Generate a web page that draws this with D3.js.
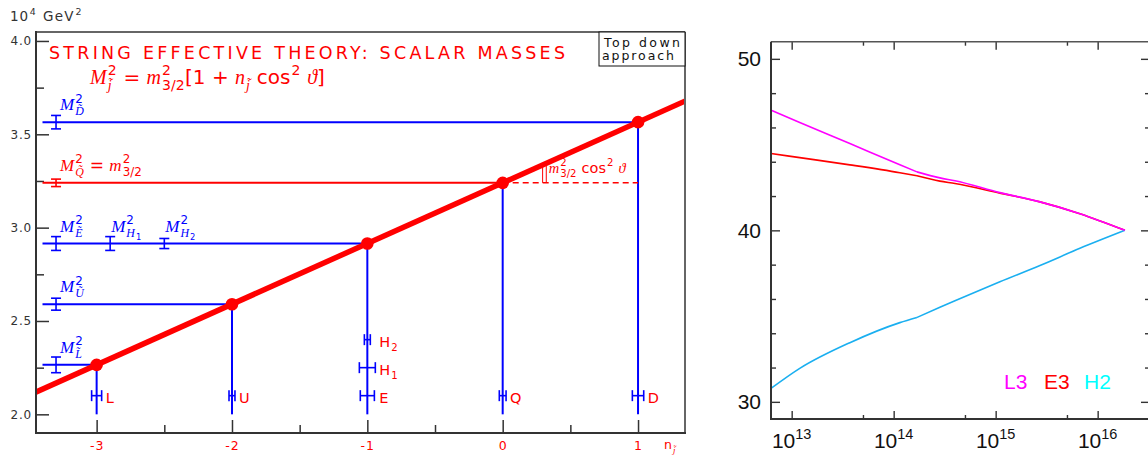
<!DOCTYPE html>
<html><head><meta charset="utf-8">
<script src="https://cdn.jsdelivr.net/npm/d3@7"></script>
<style>body{margin:0;background:#fff} svg{display:block} text{white-space:pre}</style>
</head><body><svg id="c" width="1148" height="458"></svg>
<script>
// ---------------- Left panel data ----------------
const particles = ["L", "U", "E", "Q", "D"];
const nValues = [-3, -2, -1, 0, 1];
const massSq = [2.265, 2.59, 2.915, 3.24, 3.565];      // 10^4 GeV^2
const massErr = [0.042, 0.032, 0.037, 0.02, 0.036];    // spread of left-hand bars
const nErr = [0.037, 0.022, 0.052, 0.025, 0.042];      // spread of bars on n axis
const nBarLevel = [2.1, 2.1, 2.1, 2.1, 2.1];
const higgsNames = ["1", "2"];
const higgsBarN = [-2.9, -2.5];
const higgsMassSq = [2.915, 2.915];
const higgsMassErr = [0.037, 0.027];
const higgsN = [-1, -1];
const higgsNErr = [0.059, 0.022];
const higgsBarLevel = [2.25, 2.4];
const leftBarN = -3.3;
const lineStartN = -3.4;
const fitN = [-3.45, 1.35];
const fitM = [2.119, 3.679];
const yTicksL = [2.0, 2.5, 3.0, 3.5, 4.0];
const yMinorL = [2.25, 2.75, 3.25, 3.75];
const xTicksL = [-3, -2, -1, 0, 1];
const xMinorL = [-2.5, -1.5, -0.5, 0.5];

// ---------------- Right panel data ----------------
const scaleGeV = [6.27e12, 1.2e13, 3.72e13, 1.15e14, 1.69e14, 2.84e14, 3.99e14, 1.10e15, 2.72e15, 6.70e15, 1.85e16];
const kinkIndex = 4;
const L3 = [47.01, 46.29, 45.06, 43.82, 43.41, 43.06, 42.89, 42.20, 41.66, 40.97, 40.0];
const E3 = [44.48, 44.24, 43.82, 43.36, 43.18, 42.87, 42.73, 42.17, 41.66, 40.97, 40.0];
const H2 = [30.78, 31.95, 33.45, 34.62, 34.92, 35.52, 35.90, 37.00, 37.95, 38.95, 40.0];
const yTicksR = [30, 40, 50];
const yMinorR = [32, 34, 36, 38, 42, 44, 46, 48];
const xTicksR = [1e13, 1e14, 1e15, 1e16];
const xMinorR = [5e13, 5e14, 5e15];
const seriesNames = ["L3", "E3", "H2"];

const RED = "#ff0000", BLUE = "#0000ff", AX = "#333";
const SANS = "DejaVu Sans, sans-serif", SERIF = "Liberation Serif, serif";
const svg = d3.select("#c");

function math(g, x, y, toks, size, color, ls) {
  let cx = x;
  toks.forEach(tok => {
    if (typeof tok === "string" || tok.i !== undefined) {
      const it = typeof tok !== "string";
      const t = g.append("text").attr("x", cx).attr("y", y)
        .attr("font-size", size).attr("fill", color)
        .attr("font-family", it ? SERIF : SANS)
        .style("font-style", it ? "italic" : "normal")
        .style("letter-spacing", ls ? ls + "px" : null)
        .text(it ? tok.i : tok);
      cx += t.node().getComputedTextLength();
    } else {
      let w1 = 0, w2 = 0;
      if (tok.sup) w1 = math(g, cx + 1, y - size * 0.45, tok.sup, size * 0.7, color, ls);
      if (tok.sub) w2 = math(g, cx + 1, y + size * 0.3, tok.sub, size * 0.7, color, ls);
      cx += Math.max(w1, w2) + 1.5;
    }
  });
  return cx - x;
}

// ================= LEFT PANEL =================
const L = {x0: 36, x1: 685, y0: 32, y1: 433};
const xL = d3.scaleLinear().domain([-3.448, 1.347]).range([L.x0, L.x1]);
const yL = d3.scaleLinear().domain([1.9, 4.048]).range([L.y1, L.y0]);
const gL = svg.append("g");

// unit label
math(gL, 10, 21, ["10", {sup: ["4"]}], 13.5, AX, 0.8);
math(gL, 43, 21, ["GeV", {sup: ["2"]}], 13.5, AX, 1.2);

// axes ticks
const ay = gL.append("g").attr("transform", `translate(${L.x0},0)`)
  .call(d3.axisLeft(yL).tickValues(yTicksL).tickSize(-13).tickPadding(4).tickFormat(d3.format(".1f")));
ay.select(".domain").remove();
ay.selectAll("line").attr("stroke", AX).attr("stroke-width", 1.5);
ay.selectAll("text").attr("font-family", SANS).attr("font-size", 12).attr("fill", AX).style("letter-spacing", "0.8px");
const ay2 = gL.append("g").attr("transform", `translate(${L.x0},0)`)
  .call(d3.axisLeft(yL).tickValues(yMinorL).tickSize(-8).tickFormat(""));
ay2.select(".domain").remove();
ay2.selectAll("line").attr("stroke", AX).attr("stroke-width", 1.5);

const ax = gL.append("g").attr("transform", `translate(0,${L.y1})`)
  .call(d3.axisBottom(xL).tickValues(xTicksL).tickSize(-13).tickPadding(8).tickFormat(d => d < 0 ? "-" + (-d) : String(d)));
ax.select(".domain").remove();
ax.selectAll("line").attr("stroke", AX).attr("stroke-width", 1.5);
ax.selectAll("text").attr("font-family", SANS).attr("font-size", 12.5).attr("fill", RED).style("letter-spacing", "1px");
const ax2 = gL.append("g").attr("transform", `translate(0,${L.y1})`)
  .call(d3.axisBottom(xL).tickValues(xMinorL).tickSize(-8).tickFormat(""));
ax2.select(".domain").remove();
ax2.selectAll("line").attr("stroke", AX).attr("stroke-width", 1.5);

// n axis label
math(gL, 664, 449, ["n", {sub: [{i: "j̃"}]}], 12.5, RED);

// clip
svg.append("clipPath").attr("id", "clipL").append("rect")
  .attr("x", L.x0).attr("y", L.y0).attr("width", L.x1 - L.x0).attr("height", L.y1 - L.y0);

// horizontal & vertical lines
const lines = gL.append("g");
particles.forEach((p, i) => {
  const c = p === "Q" ? RED : BLUE;
  lines.append("line").attr("x1", xL(lineStartN)).attr("x2", xL(nValues[i]))
    .attr("y1", yL(massSq[i])).attr("y2", yL(massSq[i])).attr("stroke", c).attr("stroke-width", 2);
  lines.append("line").attr("x1", xL(nValues[i])).attr("x2", xL(nValues[i]))
    .attr("y1", yL(massSq[i])).attr("y2", yL(2.0)).attr("stroke", BLUE).attr("stroke-width", 2);
});
// dashed continuation of m3/2 level
const qi = particles.indexOf("Q"), di = particles.indexOf("D");
lines.append("line").attr("x1", xL(nValues[qi])).attr("x2", xL(nValues[di]))
  .attr("y1", yL(massSq[qi])).attr("y2", yL(massSq[qi]))
  .attr("stroke", RED).attr("stroke-width", 1.5).attr("stroke-dasharray", "6,4");

// angle marker and its label
const slope = (fitM[1] - fitM[0]) / (fitN[1] - fitN[0]);
[0.295, 0.322].forEach(n => {
  lines.append("line").attr("x1", xL(n)).attr("x2", xL(n))
    .attr("y1", yL(massSq[qi])).attr("y2", yL(fitM[0] + slope * (n - fitN[0])) + 2)
    .attr("stroke", RED).attr("stroke-width", 1);
});
math(gL, xL(0.34), 173, [{i: "m"}, {sup: ["2"], sub: ["3/2"]}, " cos", {sup: ["2"]}, " ", {i: "ϑ"}], 14.5, RED);

// error bars helper
function vBar(g, x, yc, e, c) {
  const y1 = yL(yc - e), y2 = yL(yc + e);
  g.append("line").attr("x1", x).attr("x2", x).attr("y1", y1).attr("y2", y2).attr("stroke", c).attr("stroke-width", 1.6);
  [y1, y2].forEach(y => g.append("line").attr("x1", x - 5).attr("x2", x + 5).attr("y1", y).attr("y2", y).attr("stroke", c).attr("stroke-width", 1.6));
}
function hBar(g, n, e, yv, c, cap) {
  const x1 = xL(n - e), x2 = xL(n + e), y = yL(yv);
  g.append("line").attr("x1", x1).attr("x2", x2).attr("y1", y).attr("y2", y).attr("stroke", c).attr("stroke-width", 1.6);
  [x1, x2].forEach(x => g.append("line").attr("x1", x).attr("x2", x).attr("y1", y - cap).attr("y2", y + cap).attr("stroke", c).attr("stroke-width", 1.6));
}
const bars = gL.append("g");
particles.forEach((p, i) => {
  const c = p === "Q" ? RED : BLUE;
  vBar(bars, xL(leftBarN), massSq[i], massErr[i], c);
  hBar(bars, nValues[i], nErr[i], nBarLevel[i], BLUE, 5.5);
});
higgsNames.forEach((h, i) => {
  vBar(bars, xL(higgsBarN[i]), higgsMassSq[i], higgsMassErr[i], BLUE);
  hBar(bars, higgsN[i], higgsNErr[i], higgsBarLevel[i], BLUE, 5.5);
});

// labels of bars on n axis
function maxHalf(n) {
  let m = 0;
  nValues.forEach((v, i) => { if (v === n) m = Math.max(m, nErr[i]); });
  higgsN.forEach((v, i) => { if (v === n) m = Math.max(m, higgsNErr[i]); });
  return xL(n + m) - xL(n);
}
particles.forEach((p, i) => {
  math(gL, xL(nValues[i]) + maxHalf(nValues[i]) + 4, yL(nBarLevel[i]) + 7, [p], 14.5, RED);
});
higgsNames.forEach((h, i) => {
  math(gL, xL(higgsN[i]) + maxHalf(higgsN[i]) + 4, yL(higgsBarLevel[i]) + 7, ["H", {sub: [h]}], 14.5, RED);
});

// labels of left bars
particles.forEach((p, i) => {
  const c = p === "Q" ? RED : BLUE;
  const toks = [{i: "M"}, {sup: ["2"], sub: [{i: p + "\u0303"}]}];
  if (p === "Q") toks.push(" = ", {i: "m"}, {sup: ["2"], sub: ["3/2"]});
  math(gL, xL(leftBarN) + 4, yL(massSq[i]) - 12, toks, 17, c);
});
higgsNames.forEach((h, i) => {
  math(gL, xL(higgsBarN[i]) + 1, yL(higgsMassSq[i]) - 12,
    [{i: "M"}, {sup: ["2"], sub: [{i: "H"}, {sub: [h]}]}], 17, BLUE);
});

// thick red line and points
gL.append("path").attr("clip-path", "url(#clipL)")
  .datum(fitN.map((n, i) => [n, fitM[i]]))
  .attr("d", d3.line().x(d => xL(d[0])).y(d => yL(d[1])))
  .attr("stroke", RED).attr("stroke-width", 5.5).attr("fill", "none");
gL.append("g").selectAll("circle").data(nValues).join("circle")
  .attr("cx", d => xL(d)).attr("cy", (d, i) => yL(massSq[i])).attr("r", 6.3).attr("fill", RED);

// frame
gL.append("line").attr("x1", L.x0).attr("x2", L.x1).attr("y1", L.y0).attr("y2", L.y0).attr("stroke", AX).attr("stroke-width", 1.5);
gL.append("line").attr("x1", L.x1).attr("x2", L.x1).attr("y1", L.y0).attr("y2", L.y1).attr("stroke", "#666").attr("stroke-width", 2);
gL.append("line").attr("x1", L.x0).attr("x2", L.x0).attr("y1", L.y0 - 1).attr("y2", L.y1 + 1).attr("stroke", AX).attr("stroke-width", 2);
gL.append("line").attr("x1", L.x0).attr("x2", L.x1 + 1).attr("y1", L.y1).attr("y2", L.y1).attr("stroke", AX).attr("stroke-width", 2);

// title and formula
gL.append("text").attr("x", 49).attr("y", 59).attr("font-family", SANS).attr("font-size", 17.5)
  .attr("fill", RED).attr("textLength", 516).attr("lengthAdjust", "spacing")
  .text("STRING EFFECTIVE THEORY: SCALAR MASSES");
math(gL, 90, 84, [{i: "M"}, {sup: ["2"], sub: [{i: "j̃"}]}, " = ", {i: "m"}, {sup: ["2"], sub: ["3/2"]},
  "[1 + ", {i: "n"}, {sub: [{i: "j̃"}]}, " cos", {sup: ["2"]}, " ", {i: "ϑ"}, "]"], 20, RED);

// box "Top down approach"
gL.append("rect").attr("x", 599).attr("y", L.y0).attr("width", L.x1 - 599).attr("height", 34)
  .attr("fill", "#fff").attr("stroke", "#111").attr("stroke-width", 1);
gL.append("text").attr("x", 604).attr("y", 47).attr("font-family", SANS).attr("font-size", 12.5)
  .attr("fill", "#111").attr("textLength", 76).attr("lengthAdjust", "spacing").text("Top down");
gL.append("text").attr("x", 602).attr("y", 60).attr("font-family", SANS).attr("font-size", 12.5)
  .attr("fill", "#111").attr("textLength", 72).attr("lengthAdjust", "spacing").text("approach");

// ================= RIGHT PANEL =================
const R = {x0: 771, x1: 1150, y0: 41.7, y1: 419};
const xR = d3.scaleLog().domain([6.27e12, 3.26e16]).range([R.x0, R.x1]);
const yR = d3.scaleLinear().domain([29, 51]).range([R.y1, R.y0]);
const gR = svg.append("g");
const RS = "Liberation Sans, Arial, sans-serif";

function ticks(axisFn, pos, vals, size, isX) {
  const g = gR.append("g").attr("transform", isX ? `translate(0,${pos})` : `translate(${pos},0)`)
    .call(axisFn.tickValues(vals).tickSize(size).tickFormat(""));
  g.select(".domain").remove();
  g.selectAll("line").attr("stroke", AX).attr("stroke-width", 1.4);
  return g;
}
ticks(d3.axisLeft(yR), R.x0, yTicksR, -9, false);
ticks(d3.axisLeft(yR), R.x0, yMinorR, -5, false);
ticks(d3.axisRight(yR), R.x1, yTicksR, -9, false);
ticks(d3.axisRight(yR), R.x1, yMinorR, -5, false);
ticks(d3.axisBottom(xR), R.y1, xTicksR, -8, true);
ticks(d3.axisBottom(xR), R.y1, xMinorR, -4, true);
ticks(d3.axisTop(xR), R.y0, xTicksR, -8, true);
ticks(d3.axisTop(xR), R.y0, xMinorR, -4, true);

yTicksR.forEach(v => {
  gR.append("text").attr("x", 761).attr("y", yR(v) + 7.5).attr("text-anchor", "end")
    .attr("font-family", RS).attr("font-size", 21).attr("fill", "#111").text(v);
});
xTicksR.forEach(v => {
  const t = gR.append("text").attr("x", xR(v)).attr("y", 448).attr("text-anchor", "middle")
    .attr("font-family", RS).attr("font-size", 21).attr("fill", "#111");
  t.append("tspan").text("10");
  t.append("tspan").attr("dy", -9).attr("font-size", 14.5).text(String(Math.round(Math.log10(v))));
});

// each series is smooth on both sides of the threshold kink
const lineR = d3.line().x(d => xR(d[0])).y(d => yR(d[1])).curve(d3.curveMonotoneX);
[[E3, "#ff0000"], [H2, "#1aaff0"], [L3, "#ff00ff"]].forEach(([s, c]) => {
  const pts = s.map((v, i) => [scaleGeV[i], v]);
  [pts.slice(0, kinkIndex + 1), pts.slice(kinkIndex)].forEach(seg => {
    gR.append("path").datum(seg).attr("d", lineR).attr("fill", "none")
      .attr("stroke", c).attr("stroke-width", 1.6).attr("stroke-linejoin", "round");
  });
});
const labelColors = ["#ff00ff", "#ff0000", "#00ffff"];
const labelX = [1004, 1044, 1084];
seriesNames.forEach((n, i) => {
  gR.append("text").attr("x", labelX[i]).attr("y", 389).attr("font-family", RS).attr("font-size", 21)
    .attr("fill", labelColors[i]).text(n);
});

// frame
gR.append("line").attr("x1", R.x0).attr("x2", R.x1).attr("y1", R.y0).attr("y2", R.y0).attr("stroke", "#555").attr("stroke-width", 1.5);
gR.append("line").attr("x1", R.x0).attr("x2", R.x0).attr("y1", R.y0).attr("y2", R.y1 + 1).attr("stroke", AX).attr("stroke-width", 2);
gR.append("line").attr("x1", R.x0).attr("x2", R.x1).attr("y1", R.y1).attr("y2", R.y1).attr("stroke", AX).attr("stroke-width", 2);
gR.append("line").attr("x1", R.x1).attr("x2", R.x1).attr("y1", R.y0).attr("y2", R.y1).attr("stroke", AX).attr("stroke-width", 2);
</script></body></html>
